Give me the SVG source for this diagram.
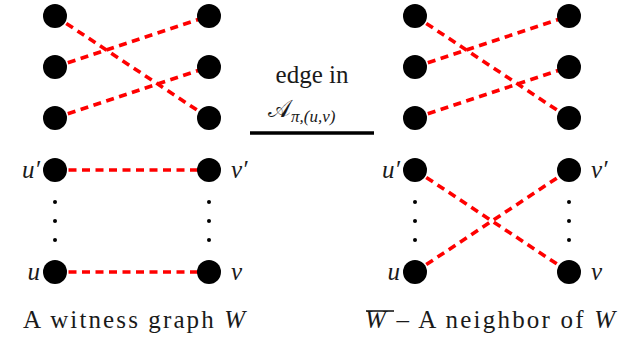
<svg xmlns="http://www.w3.org/2000/svg" width="629" height="339" viewBox="0 0 629 339">
<rect width="629" height="339" fill="#fff"/>
<g id="connectors" stroke="#ff0000" stroke-width="3.6" stroke-dasharray="8 5.5" fill="none">
<line x1="55" y1="16" x2="209" y2="118"/>
<line x1="55" y1="67" x2="209" y2="16"/>
<line x1="55" y1="118" x2="209" y2="67"/>
<line x1="55" y1="170" x2="209" y2="170"/>
<line x1="55" y1="272" x2="209" y2="272"/>
<line x1="415" y1="16" x2="569" y2="118"/>
<line x1="415" y1="67" x2="569" y2="16"/>
<line x1="415" y1="118" x2="569" y2="67"/>
<line x1="415" y1="170" x2="569" y2="272"/>
<line x1="415" y1="272" x2="569" y2="170"/>
</g>
<g id="W-a1"><circle cx="55" cy="16" r="12"/></g>
<g id="W-a2"><circle cx="55" cy="67" r="12"/></g>
<g id="W-a3"><circle cx="55" cy="118" r="12"/></g>
<g id="W-b1"><circle cx="209" cy="16" r="12"/></g>
<g id="W-b2"><circle cx="209" cy="67" r="12"/></g>
<g id="W-b3"><circle cx="209" cy="118" r="12"/></g>
<g id="W-u1"><circle cx="55" cy="170" r="12"/><text font-family="Times New Roman, Liberation Serif, serif" font-style="italic" font-size="25" fill="#1a1a1a" x="40" y="178" text-anchor="end">u′</text></g>
<g id="W-v1"><circle cx="209" cy="170" r="12"/><text font-family="Times New Roman, Liberation Serif, serif" font-style="italic" font-size="25" fill="#1a1a1a" x="231" y="178">v′</text></g>
<g id="W-u"><circle cx="55" cy="272" r="12"/><text font-family="Times New Roman, Liberation Serif, serif" font-style="italic" font-size="25" fill="#1a1a1a" x="40" y="280" text-anchor="end">u</text></g>
<g id="W-v"><circle cx="209" cy="272" r="12"/><text font-family="Times New Roman, Liberation Serif, serif" font-style="italic" font-size="25" fill="#1a1a1a" x="231" y="280">v</text></g>
<g id="W-dots">
<circle cx="55" cy="202" r="2"/><circle cx="55" cy="221" r="2"/><circle cx="55" cy="240" r="2"/>
<circle cx="209" cy="202" r="2"/><circle cx="209" cy="221" r="2"/><circle cx="209" cy="240" r="2"/>
</g>
<g id="N-a1"><circle cx="415" cy="16" r="12"/></g>
<g id="N-a2"><circle cx="415" cy="67" r="12"/></g>
<g id="N-a3"><circle cx="415" cy="118" r="12"/></g>
<g id="N-b1"><circle cx="569" cy="16" r="12"/></g>
<g id="N-b2"><circle cx="569" cy="67" r="12"/></g>
<g id="N-b3"><circle cx="569" cy="118" r="12"/></g>
<g id="N-u1"><circle cx="415" cy="170" r="12"/><text font-family="Times New Roman, Liberation Serif, serif" font-style="italic" font-size="25" fill="#1a1a1a" x="400" y="178" text-anchor="end">u′</text></g>
<g id="N-v1"><circle cx="569" cy="170" r="12"/><text font-family="Times New Roman, Liberation Serif, serif" font-style="italic" font-size="25" fill="#1a1a1a" x="591" y="178">v′</text></g>
<g id="N-u"><circle cx="415" cy="272" r="12"/><text font-family="Times New Roman, Liberation Serif, serif" font-style="italic" font-size="25" fill="#1a1a1a" x="400" y="280" text-anchor="end">u</text></g>
<g id="N-v"><circle cx="569" cy="272" r="12"/><text font-family="Times New Roman, Liberation Serif, serif" font-style="italic" font-size="25" fill="#1a1a1a" x="591" y="280">v</text></g>
<g id="N-dots">
<circle cx="415" cy="202" r="2"/><circle cx="415" cy="221" r="2"/><circle cx="415" cy="240" r="2"/>
<circle cx="569" cy="202" r="2"/><circle cx="569" cy="221" r="2"/><circle cx="569" cy="240" r="2"/>
</g>
<g id="middle">
<text font-family="Times New Roman, Liberation Serif, serif" font-size="25" fill="#1a1a1a" x="312" y="83" text-anchor="middle">edge in</text>
<text font-family="Times New Roman, Liberation Serif, serif" font-size="24" fill="#1a1a1a" x="268" y="117">𝒜<tspan font-size="17" font-style="italic" dy="5">π,(u,v)</tspan></text>
<line x1="250" y1="133" x2="374" y2="133" stroke="#000" stroke-width="3.5"/>
</g>
<g id="caption-left">
<text font-family="Times New Roman, Liberation Serif, serif" font-size="25" fill="#1a1a1a" x="23" y="328" textLength="222" lengthAdjust="spacing">A witness graph <tspan font-style="italic">W</tspan></text>
</g>
<g id="caption-right">
<text font-family="Times New Roman, Liberation Serif, serif" font-size="25" fill="#1a1a1a" x="365" y="328" textLength="250" lengthAdjust="spacing"><tspan font-style="italic">W</tspan> – A neighbor of <tspan font-style="italic">W</tspan></text>
<line x1="366" y1="311" x2="394" y2="311" stroke="#1a1a1a" stroke-width="1.6"/>
</g>
</svg>
